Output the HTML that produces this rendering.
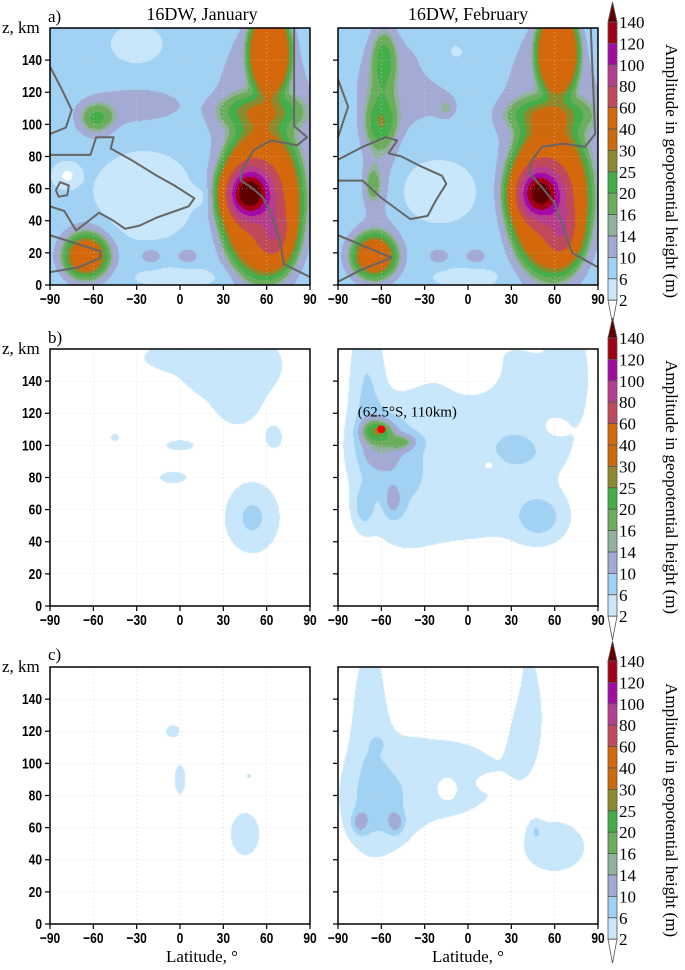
<!DOCTYPE html>
<html><head><meta charset="utf-8">
<style>
body{margin:0;background:#fff;}
#wrap{position:relative;width:685px;height:970px;overflow:hidden;background:#fff;font-family:"Liberation Serif",serif;}
canvas{position:absolute;}
svg{position:absolute;left:0;top:0;}
</style></head>
<body>
<div id="wrap">
<canvas id="c0"></canvas>
<canvas id="c1"></canvas>
<canvas id="c2"></canvas>
<canvas id="c3"></canvas>
<canvas id="c4"></canvas>
<canvas id="c5"></canvas>
<svg id="ov" width="685" height="970"></svg>
</div>
<script>
// ---- data ----
const levels = [2,6,10,14,16,20,25,30,40,60,80,100,120,140];
const levelColors = ["#ffffff","#c8e7fb","#a2d2f3","#a3aad3","#91b39e","#6cad5d","#43ae4a","#8c8a2c","#cf6a0c","#d5680a","#c04a5c","#b53e8e","#a40aa6","#a20012","#5c0000"];
const xTicks = [-90,-60,-30,0,30,60,90];
const yTicks = [0,20,40,60,80,100,120,140];
// blobs: [lat, z, amplitude, sigmaLat, sigmaZ, shapePower(optional)]
const baseA = 7, baseB = 0, baseC = 0;
const janA = [[48,57,110,10,10],[56,52,45,22,36,4],[66,30,30,8,12],[62,145,38,12,22,4],[56,108,18,18,7],[58,80,6,33,80,4],
  [-30,112,4,33,11,4],[-58,103,13,9,7],[-65,18,42,9,8],[-65,20,4,15,15],[-20,18,5,6,4],[5,18,5,6,4],
  [-25,55,-4,28,22,4],[-30,150,-3,12,8],[0,5,-4,20,4],[-78,68,-6,6,5],[15,55,-3,5,5]];
const febA = [[50,57,100,10,10],[56,54,45,22,36,4],[66,32,30,8,12],[62,145,38,12,22,4],[56,106,18,18,7],[58,80,6,33,80,4],
  [-40,125,4,33,25,4],[-58,142,11,6,14],[-60,100,12,8,11],[-66,62,9,4,8],[-65,18,42,9,8],[-65,20,4,15,15],
  [-20,18,5,6,4],[5,18,5,6,4],[-15,110,6,4,4],[-20,58,-4.5,20,15,4],[-15,140,-3,12,10],[0,5,-4,15,4],[-62,95,5,9,40]];
const janB = [[35,150,4.5,28,18],[40,125,3,10,10],[50,55,7,12,14],[-45,105,3,3,2.5],[0,100,3.3,9,3],[-5,80,3.3,9,3.5],[65,105,3.5,5,6],[-10,155,2.5,15,6]];
const febB = [[-63,109,14,7,4.5],[-45,102,9,7,3.5],[-60,100,9,12,14],[-72,62,7,5,9],[-52,65,7,5,8],[-70,135,6,8,30],[-45,75,4,22,30],
  [30,130,3.5,35,28],[50,55,8,12,10],[35,95,3.5,14,8],[0,95,2.5,60,40,4],[5,142,-5,12,9],[15,88,-3,4,3],[60,112,-3,7,5],[70,150,4,8,20],[10,50,1.5,30,15]];
const janC = [[-5,120,3,5,4],[0,90,3,4,10],[45,56,3.6,9,12],[48,92,2.5,2,2]];
const febC = [[-75,63,8,4,5],[-50,63,8,4,5],[-62,72,6,15,18],[-68,125,4,9,40],[-25,92,4,38,22],[40,140,4,10,30],[60,48,5,15,11],
  [47,58,4,3,4],[-62,112,3,3,3],[-15,85,-4,5,5],[15,88,-3,6,3],[10,150,-4,20,15],[-20,145,-2,12,15]];
// grey contour lines (lat, z)
const janLine1 = [[-90,136],[-82,122],[-75,109],[-79,98],[-90,94]];
const janLine2 = [[-90,81],[-62,81],[-58,92],[-46,92],[-48,85],[-34,78],[-16,68],[-4,62],[10,54],[6,49],[-16,42],[-28,37],[-38,35],[-46,40],[-56,45],[-66,38],[-72,34],[-80,46],[-90,49]];
const janLine3 = [[-90,31],[-55,21],[-55,17],[-70,11],[-90,8]];
const janLine4 = [[79,160],[79,99],[88,92],[81,87],[63,90],[51,84],[43,72],[42,65],[49,61],[57,55],[63,45],[69,28],[72,13],[90,5]];
const janLoop = [[-86,59],[-83,64],[-77,62],[-78,56],[-84,55],[-86,59]];
const febLine1 = [[-90,128],[-83,111],[-90,92]];
const febLine2 = [[-90,78],[-73,86],[-57,92],[-49,90],[-55,82],[-46,80],[-33,74],[-18,68],[-15,63],[-22,53],[-28,43],[-40,41],[-49,47],[-61,55],[-73,65],[-90,65]];
const febLine3 = [[-90,31],[-53,17],[-75,9],[-90,2]];
const febLine4 = [[85,160],[88,94],[81,86],[66,88],[51,86],[43,76],[43,69],[51,61],[60,51],[66,36],[72,20],[90,11]];

// ---- layout ----
const NS="http://www.w3.org/2000/svg";
const ov=document.getElementById('ov');
const colX=[50,338], PW=260;
const rowY=[28,349,667], PH=257;
const ZMAX=160;
const panels=[
 {c:'c0',col:0,row:0,base:baseA,blobs:janA,lines:[janLine1,janLine2,janLine3,janLine4,janLoop],name:'panel-a-january'},
 {c:'c1',col:1,row:0,base:baseA,blobs:febA,lines:[febLine1,febLine2,febLine3,febLine4],name:'panel-a-february'},
 {c:'c2',col:0,row:1,base:baseB,blobs:janB,lines:[],name:'panel-b-january'},
 {c:'c3',col:1,row:1,base:baseB,blobs:febB,lines:[],name:'panel-b-february'},
 {c:'c4',col:0,row:2,base:baseC,blobs:janC,lines:[],name:'panel-c-january'},
 {c:'c5',col:1,row:2,base:baseC,blobs:febC,lines:[],name:'panel-c-february'}];
function hex(h){return [parseInt(h.substr(1,2),16),parseInt(h.substr(3,2),16),parseInt(h.substr(5,2),16)];}
const rgb=levelColors.map(hex);
function el(tag,attrs,parent){const e=document.createElementNS(NS,tag);for(const k in attrs)e.setAttribute(k,attrs[k]);(parent||ov).appendChild(e);return e;}
function txt(x,y,s,attrs){const t=el('text',Object.assign({x:x,y:y},attrs));t.textContent=s;return t;}

panels.forEach(p=>{
  const X0=colX[p.col],Y0=rowY[p.row];
  const xs=lat=>X0+(lat+90)/180*PW, ys=z=>Y0+PH-z/ZMAX*PH;
  const cv=document.getElementById(p.c);
  cv.width=PW;cv.height=PH;cv.style.left=X0+'px';cv.style.top=Y0+'px';
  const ctx=cv.getContext('2d');const img=ctx.createImageData(PW,PH);
  for(let j=0;j<PH;j++){const z=(PH-j-0.5)/PH*ZMAX;
    for(let i=0;i<PW;i++){const lat=(i+0.5)/PW*180-90;let v=p.base;
      for(const b of p.blobs){const dx=(lat-b[0])/b[3],dz=(z-b[1])/b[4];const r2=dx*dx+dz*dz;
        const pw=b[5]||2;v+=b[2]*Math.exp(-0.5*(pw===2?r2:Math.pow(r2,pw/2)));}
      let k=0;while(k<levels.length&&v>=levels[k])k++;const c=rgb[k];const o=(j*PW+i)*4;
      img.data[o]=c[0];img.data[o+1]=c[1];img.data[o+2]=c[2];img.data[o+3]=255;}}
  ctx.putImageData(img,0,0);
  const g=el('g',{});
  
  
  xTicks.forEach(t=>{if(t>-90&&t<90)el('line',{x1:xs(t),x2:xs(t),y1:Y0,y2:Y0+PH,stroke:'#ccc','stroke-width':0.6,'stroke-dasharray':'1,3'},g);});
  yTicks.forEach(t=>{if(t>0)el('line',{x1:X0,x2:X0+PW,y1:ys(t),y2:ys(t),stroke:'#ccc','stroke-width':0.6,'stroke-dasharray':'1,3'},g);});
  p.lines.forEach((ln,idx)=>{
    const d=ln.map((q,i)=>(i?'L':'M')+xs(q[0]).toFixed(1)+','+ys(q[1]).toFixed(1)).join(' ');
    const pl=el('path',{d:d,fill:'none',stroke:'#666','stroke-width':2,'stroke-linejoin':'round'},g);
    
    
  });
  el('rect',{x:X0,y:Y0,width:PW,height:PH,fill:'none',stroke:'#000','stroke-width':1.5},g);
  xTicks.forEach(t=>{el('line',{x1:xs(t),x2:xs(t),y1:Y0+PH,y2:Y0+PH+5,stroke:'#000','stroke-width':1.2},g);
    const lb=txt(xs(t),Y0+PH+19,(t<0?'\u2212':'')+Math.abs(t),{'text-anchor':'middle','font-family':'"Liberation Sans",sans-serif','font-weight':'bold','font-size':15,transform:'translate('+xs(t)+',0) scale(0.8,1) translate('+(-xs(t))+',0)'});
    
    });
  yTicks.forEach(t=>{el('line',{x1:X0-5,x2:X0,y1:ys(t),y2:ys(t),stroke:'#000','stroke-width':1.2},g);
    if(p.col===0){const lb=txt(X0-8,ys(t)+5,String(t),{'text-anchor':'end','font-family':'"Liberation Sans",sans-serif','font-weight':'bold','font-size':15,transform:'translate('+(X0-8)+',0) scale(0.8,1) translate('+(-(X0-8))+',0)'});
      
      }});
  if(p.col===0){const zl=txt(2,Y0+5,'z, km',{'font-size':17});
    
    }
});
[['a)',22],['b)',343],['c)',660]].forEach(a=>{const t=txt(48,a[1],a[0],{'font-size':17});
  
  });
let t1=txt(202,20,'16DW, January',{'font-size':18,'text-anchor':'middle'});


let t2=txt(468,20,'16DW, February',{'font-size':18,'text-anchor':'middle'});


[202,468].forEach(x=>{const t=txt(x,962,'Latitude, \u00b0',{'font-size':17,'text-anchor':'middle'});
  
  });
(function(){const X0=colX[1],Y0=rowY[1];const xs=lat=>X0+(lat+90)/180*PW, ys=z=>Y0+PH-z/ZMAX*PH;
  const dot=el('circle',{cx:xs(-60),cy:ys(110),r:4,fill:'#f00'});
  
  
  const a=txt(xs(-42),ys(110)-13,'(62.5\u00b0S, 110km)',{'font-size':15,'text-anchor':'middle'});
  
  })();
const cbTop=[22,338,661], CBX=608, CBW=9, STEP=21.4;
cbTop.forEach((top,r)=>{
  const g=el('g',{});
  
  
  const n=levels.length;
  el('polygon',{points:(CBX)+','+top+' '+(CBX+CBW)+','+top+' '+(CBX+CBW/2)+','+(top-20),fill:levelColors[n],stroke:'#555','stroke-width':0.8},g);
  for(let k=n-1;k>=1;k--){const y=top+(n-1-k)*STEP;
    el('rect',{x:CBX,y:y,width:CBW,height:STEP,fill:levelColors[k],stroke:'#555','stroke-width':0.8},g);}
  const bot=top+(n-1)*STEP;
  el('polygon',{points:CBX+','+bot+' '+(CBX+CBW)+','+bot+' '+(CBX+CBW/2)+','+(bot+24),fill:'#fff',stroke:'#555','stroke-width':0.8},g);
  levels.forEach((lv,k)=>{const y=top+(n-1-k)*STEP;const t=txt(CBX+CBW+2,y+6,String(lv),{'font-size':17});
    
    });
  const cy=top+(bot-top)/2+10;
  const tt=txt(666,cy,'Amplitude in geopotential height (m)',{'font-size':17,'text-anchor':'middle',transform:'rotate(90 666 '+cy+')'});
  
  
});
</script>
</body></html>
